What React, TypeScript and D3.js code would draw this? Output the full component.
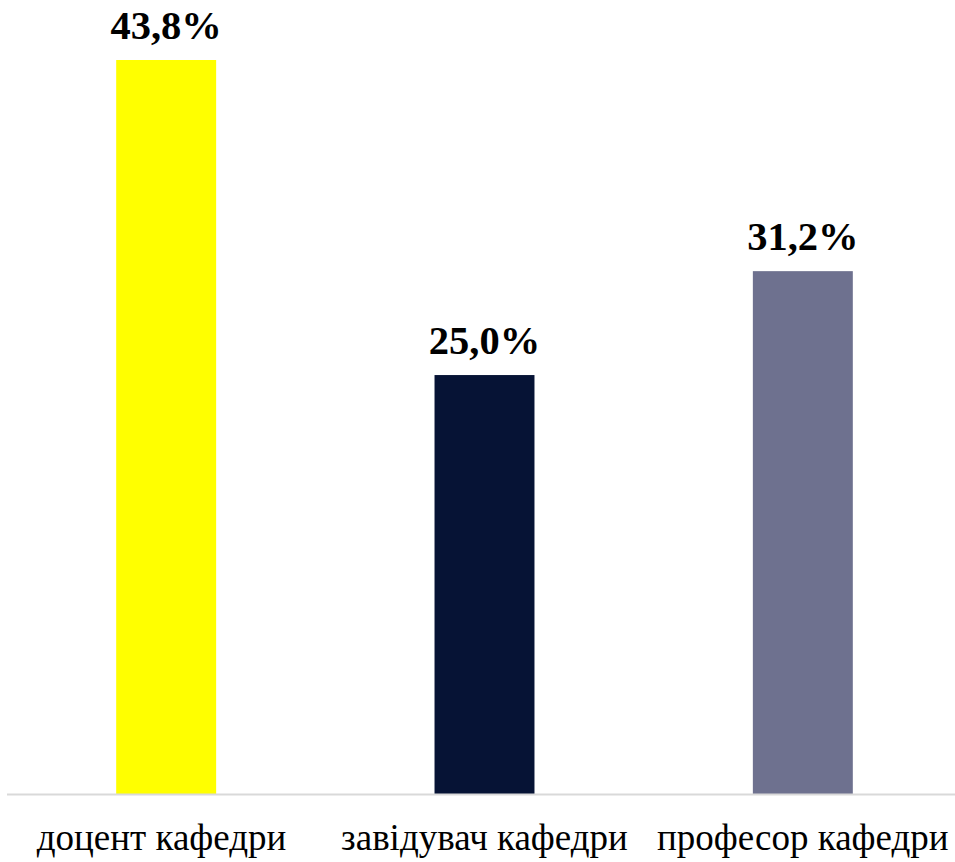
import React from "react";
import * as d3 from "d3";

const categories = ["доцент кафедри ", "завідувач кафедри", "професор кафедри"];
const values = [43.8, 25.0, 31.2];
const colors = ["#FFFF00", "#061335", "#6E718F"];

const W = 955;
const H = 862;
const baseline = 794;
const topY = 60;

export default function App() {
  const x = d3
    .scaleBand<string>()
    .domain(categories)
    .range([7, 962])
    .paddingInner(0.686)
    .paddingOuter(0.343);
  const y = d3.scaleLinear().domain([0, 43.8]).range([baseline, topY]);
  const fmt = (v: number) => v.toFixed(1).replace(".", ",") + "%";

  return (
    <svg
      width={W}
      height={H}
      style={{ position: "absolute", left: 0, top: 0, background: "#fff" }}
      fontFamily="'Liberation Serif', 'Times New Roman', serif"
    >
      {categories.map((c, i) => (
        <g key={c}>
          <rect
            x={x(c)}
            y={y(values[i])}
            width={x.bandwidth()}
            height={baseline - y(values[i])}
            fill={colors[i]}
          />
          <text
            x={(x(c) as number) + x.bandwidth() / 2}
            y={y(values[i]) - 21}
            textAnchor="middle"
            fontWeight="bold"
            fontSize={40.5}
            fill="#000"
          >
            {fmt(values[i])}
          </text>
          <text
            x={(x(c) as number) + x.bandwidth() / 2}
            y={850}
            textAnchor="middle"
            fontSize={37}
            fill="#000"
            style={{ whiteSpace: "pre" }}
          >
            {c}
          </text>
        </g>
      ))}
      <line x1={7} x2={955} y1={baseline + 0.5} y2={baseline + 0.5} stroke="#d9d9d9" strokeWidth={2} />
    </svg>
  );
}
